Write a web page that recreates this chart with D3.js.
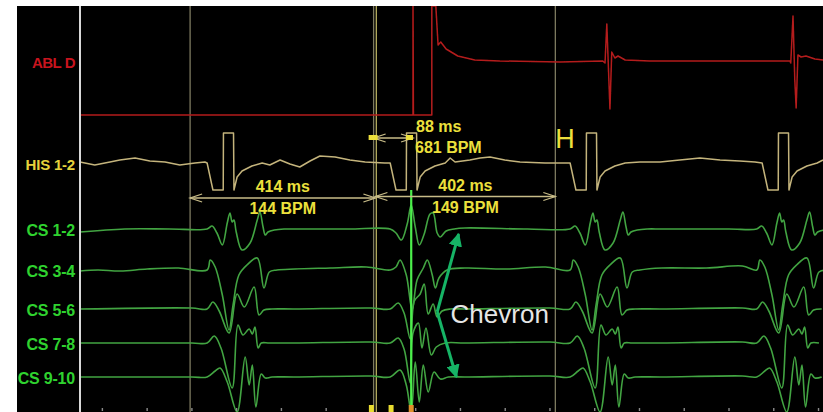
<!DOCTYPE html>
<html><head><meta charset="utf-8">
<script src="https://cdn.jsdelivr.net/npm/d3@7"></script>
<style>html,body{margin:0;padding:0;background:#fff;overflow:hidden}</style>
</head><body>
<svg id="c" width="823" height="412"></svg>
<script>
// ---------------- DATA ----------------
const timeDomain = [0, 1660]; // ms shown in the sweep
const channelNames = ["ABL D", "HIS 1-2", "CS 1-2", "CS 3-4", "CS 5-6", "CS 7-8", "CS 9-10"];

// ABL D (ms, mV)
const ablTrace = [[0,-5.4],[744,-5.4],[744,5.5],[745,-5.4],[786,-5.4],[786,5.5],[795,5.5],[800,1.6],[806,1.9],[818,1.2],[844,0.5],[882,0.1],[938,0],[1072,-0.1],[1168,0],[1173,-0.2],[1177,3.7],[1182,-2.4],[1184,-4.8],[1188,0.9],[1195,0.3],[1202,0.5],[1218,0.1],[1273,0],[1586,0],[1588,-0.2],[1593,4.5],[1597,-1.9],[1600,-4.7],[1604,0.6],[1611,0.4],[1622,0.5],[1642,0.2],[1660,0.1]];

// HIS 1-2
const hisOnsets = [284, 693, 1095, 1524];
const hisComplex = [[0,0],[13,-2.7],[36,-2.7],[36.5,3.0],[59,3.0],[60,-2.7],[67,-1.4],[78,-0.8],[100,-0.3],[123,0]];
const hisBaseline = [[0,0.1],[33,-0.2],[67,0.1],[89,0.3],[123,0.5],[156,0.2],[190,0.1],[223,-0.2],[257,0],[279,0.1],
  [424,-0.2],[447,0.3],[469,-0.1],[491,-0.4],[514,0.2],[536,0.7],[570,0.6],[603,0.3],[637,0.1],[681,0],
  [827,0.5],[838,0.1],[871,0.3],[894,0.5],[916,0.6],[949,0.3],[983,0.1],[1039,0],[1072,0],
  [1251,0.1],[1296,0.1],[1340,0.3],[1385,0.5],[1430,0.3],[1474,0.2],[1508,0.1],[1660,0.3]];

// CS complexes (conducted beats) and paced beat
const csOnsets = [284, 1095, 1512];
const pacedOnsets = [693];
const stimTimes = [740];

const cs12Complex = [[0,0],[11,0.3],[22,-0.4],[34,-1.6],[45,0.6],[51,1.6],[56,0.7],[60,0.9],[65,-0.3],[78,-2.1],[96,-1.4],[112,0.9],[118,1.7],[125,0.2],[130,-0.6],[136,-0.3],[150,-0.1],[172,0]];
const cs34Complex = [[0,0],[7,1.0],[18,0.3],[34,-2.5],[49,-6.0],[58,-3.5],[71,-0.5],[89,0.5],[112,1.2],[127,-1.8],[139,-0.2],[156,0]];
const cs56Complex = [[0,0],[13,0.7],[27,-0.2],[49,-2.4],[67,1.5],[83,0.2],[105,2.2],[116,-0.6],[127,-0.1],[145,0]];
const cs78Complex = [[0,0],[16,0.7],[31,-0.5],[56,-4.5],[69,1.8],[80,0.8],[94,1.4],[101,0.9],[107,1.6],[114,-0.5],[121,0],[139,0]];
const cs910Complex = [[0,0],[18,0.6],[29,0.9],[45,-0.5],[67,-3.5],[85,2.0],[94,-0.8],[101,1.2],[109,-3.0],[121,0.3],[130,-0.1],[145,0]];

const cs12Paced = [[0,0],[13,-0.4],[25,-1.1],[38,0.5],[47,2.4],[56,0.2],[65,-1.6],[76,-0.5],[89,1.5],[96,1.6],[105,-0.4],[112,-0.8],[125,-0.2],[143,0]];
const cs34Paced = [[0,0],[13,0.3],[22,1.0],[36,-0.5],[49,-4.0],[60,-1.0],[74,0.2],[83,1.0],[94,-0.5],[101,-1.8],[109,-0.8],[127,0]];
const cs56Paced = [[0,0],[18,0.6],[31,-0.4],[45,-3.0],[54,0.8],[67,1.5],[76,2.5],[85,-0.5],[96,0.5],[105,-0.8],[116,-0.2],[134,0]];
const cs78Paced = [[0,0],[18,0.5],[31,-0.6],[45,-4.0],[51,1.0],[63,2.0],[71,-0.5],[80,1.5],[92,-1.2],[103,-0.4],[123,0]];
const cs910Paced = [[0,0],[22,0.7],[36,-0.8],[47,-3.5],[56,1.5],[65,-2.5],[74,1.2],[85,-1.5],[98,0.5],[112,-0.2],[130,0]];

const cs12Baseline = [[0,-0.3],[100,0],[200,0],[480,0],[600,0],[860,0.1],[1000,0],[1300,0],[1450,0]];
const cs34Baseline = [[0,-0.1],[40,0],[90,-0.1],[150,0.1],[220,0.2],[480,0.1],[560,0.2],[640,0.3],[860,0.2],[950,0.1],[1040,0.3],[1300,0.2],[1400,0.2],[1480,0.4]];
const cs56Baseline = [[0,0],[250,0.1],[480,0],[650,0.1],[860,0],[1050,0.1],[1300,0],[1480,0.1]];
const cs78Baseline = [[0,0],[250,0],[480,0],[650,0.1],[860,0],[1050,0.1],[1300,0],[1480,0.1]];
const cs910Baseline = [[0,0],[250,0],[480,0],[650,0.1],[860,0],[1050,0.1],[1300,0],[1480,0.1]];

// calipers
const sweepLines = [246, 656, 1062];
const markerLines = [662];
const intervals = [
  {start:246, end:660, ms:"414 ms", bpm:"144 BPM"},
  {start:660, end:1062, ms:"402 ms", bpm:"149 BPM"}
];
const shortInterval = {start:656, end:744, ms:"88 ms", bpm:"681 BPM"};
const bottomMarkers = [651, 695, 740];
const tickTimes = [50,150,250,350,450,550,650,750,850,950,1050,1150,1250,1350,1450,1550,1650];

// ---------------- LAYOUT / STYLE ----------------
const W = 823, H = 412;
const panelX = 17, panelY = 6, plotLeft = 80;
const baseY = {"ABL D":61,"HIS 1-2":163,"CS 1-2":229,"CS 3-4":270,"CS 5-6":309,"CS 7-8":343,"CS 9-10":377};
const gain = 10; // px per mV
const labelColor = {"ABL D":"#c8141e","HIS 1-2":"#e6d23c","CS 1-2":"#2fd22f","CS 3-4":"#2fd22f","CS 5-6":"#2fd22f","CS 7-8":"#2fd22f","CS 9-10":"#2fd22f"};
const labelSize = {"ABL D":15,"HIS 1-2":15,"CS 1-2":16,"CS 3-4":16,"CS 5-6":16,"CS 7-8":16,"CS 9-10":16};
const FONT = "'Liberation Sans', Arial, sans-serif";

const svg = d3.select("#c");
const x = d3.scaleLinear().domain(timeDomain).range([plotLeft, W]);
const yFor = name => d3.scaleLinear().domain([0, 1]).range([baseY[name], baseY[name] - gain]);

svg.append("rect").attr("width", W).attr("height", H).attr("fill", "#fff");
svg.append("rect").attr("x", panelX).attr("y", panelY).attr("width", W - panelX).attr("height", H - panelY).attr("fill", "#000");

const defs = svg.append("defs");
defs.append("clipPath").attr("id", "plot").append("rect")
  .attr("x", plotLeft).attr("y", panelY).attr("width", W - plotLeft).attr("height", H - panelY);
const blur = defs.append("filter").attr("id", "soft").attr("x", "-5%").attr("y", "-5%").attr("width", "110%").attr("height", "110%");
blur.append("feGaussianBlur").attr("stdDeviation", 0.45);

const g = svg.append("g").attr("clip-path", "url(#plot)");

// vertical sweep/caliper lines
g.selectAll(".sw").data(sweepLines).join("line")
  .attr("x1", d => x(d)).attr("x2", d => x(d)).attr("y1", panelY).attr("y2", H)
  .attr("stroke", "#7e7b60").attr("stroke-width", 1.3);
g.selectAll(".mk").data(markerLines).join("line")
  .attr("x1", d => x(d)).attr("x2", d => x(d)).attr("y1", panelY).attr("y2", H)
  .attr("stroke", "#b8b060").attr("stroke-width", 1.3);

// compose a channel from baseline points + complexes
function compose(baseline, parts) {
  let pts = baseline.slice();
  parts.forEach(([onsets, tpl]) => onsets.forEach(o => tpl.forEach(([dt, v]) => pts.push([o + dt, v]))));
  return pts.sort((a, b) => a[0] - b[0]);
}

const csColor = "#42a442";
const traces = [
  {name:"ABL D", pts: ablTrace, color:"#b41c1c", curve: d3.curveLinear, w:1.5},
  {name:"HIS 1-2", pts: compose(hisBaseline, [[hisOnsets, hisComplex]]), color:"#c4b47c", curve: d3.curveLinear, w:1.5},
  {name:"CS 1-2", pts: compose(cs12Baseline, [[csOnsets, cs12Complex],[pacedOnsets, cs12Paced]]), color:csColor, curve: d3.curveCatmullRom.alpha(0.5), w:1.6},
  {name:"CS 3-4", pts: compose(cs34Baseline, [[csOnsets, cs34Complex],[pacedOnsets, cs34Paced]]), color:csColor, curve: d3.curveCatmullRom.alpha(0.5), w:1.6},
  {name:"CS 5-6", pts: compose(cs56Baseline, [[csOnsets, cs56Complex],[pacedOnsets, cs56Paced]]), color:csColor, curve: d3.curveCatmullRom.alpha(0.5), w:1.6},
  {name:"CS 7-8", pts: compose(cs78Baseline, [[csOnsets, cs78Complex],[pacedOnsets, cs78Paced]]), color:csColor, curve: d3.curveCatmullRom.alpha(0.5), w:1.6},
  {name:"CS 9-10", pts: compose(cs910Baseline, [[csOnsets, cs910Complex],[pacedOnsets, cs910Paced]]), color:csColor, curve: d3.curveCatmullRom.alpha(0.5), w:1.6}
];

const tg = g.append("g").attr("filter", "url(#soft)");
traces.forEach(tr => {
  const ys = yFor(tr.name);
  const line = d3.line().x(d => x(d[0])).y(d => ys(d[1])).curve(tr.curve);
  tg.append("path").attr("d", line(tr.pts)).attr("fill", "none")
    .attr("stroke", tr.color).attr("stroke-width", tr.w).attr("stroke-linejoin", "round");
});

// stimulus artifact
tg.selectAll(".stim").data(stimTimes).join("line")
  .attr("x1", d => x(d)).attr("x2", d => x(d))
  .attr("y1", yFor("HIS 1-2")(-2.7)).attr("y2", H)
  .attr("stroke", "#4cf04c").attr("stroke-width", 2.2);

// bottom ticks
g.selectAll(".tk").data(tickTimes).join("rect")
  .attr("x", d => x(d) - 0.7).attr("y", H - 4).attr("width", 1.4).attr("height", 3)
  .attr("fill", "#8a8a8a");
g.selectAll(".bm").data(bottomMarkers).join("rect")
  .attr("x", d => x(d) - 2.5).attr("y", H - 7).attr("width", 5).attr("height", 7)
  .attr("fill", (d, i) => i === bottomMarkers.length - 1 ? "#e0902a" : "#e8dc30");

// white left border line
svg.append("line").attr("x1", plotLeft).attr("x2", plotLeft).attr("y1", panelY).attr("y2", H)
  .attr("stroke", "#d8d8d8").attr("stroke-width", 2);

// channel labels
svg.selectAll(".lab").data(channelNames).join("text")
  .attr("x", 75).attr("y", d => baseY[d] + 1)
  .attr("text-anchor", "end").attr("dominant-baseline", "central")
  .attr("font-family", FONT).attr("font-weight", "bold")
  .attr("font-size", d => labelSize[d])
  .attr("letter-spacing", d => d === "ABL D" ? -0.5 : -0.2)
  .attr("fill", d => labelColor[d]).text(d => d);

// caliper arrows
const calColor = "#c8bc88";
function dblArrow(x1, x2, y, col) {
  const a = svg.append("g").attr("stroke", col).attr("stroke-width", 1.3).attr("fill", "none");
  a.append("line").attr("x1", x1).attr("x2", x2).attr("y1", y).attr("y2", y);
  a.append("path").attr("d", `M${x1 + 12},${y - 4}L${x1},${y}L${x1 + 12},${y + 4}`);
  a.append("path").attr("d", `M${x2 - 12},${y - 4}L${x2},${y}L${x2 - 12},${y + 4}`);
}
const yel = "#ece03c";
intervals.forEach((iv, i) => {
  const x1 = x(iv.start), x2 = x(iv.end), cx = (x1 + x2) / 2;
  const ay = i === 0 ? 198 : 196.5;
  dblArrow(x1, x2, ay, calColor);
  svg.append("text").attr("x", cx).attr("y", ay - 6).attr("text-anchor", "middle")
    .attr("font-family", FONT).attr("font-weight", "bold").attr("font-size", 16).attr("fill", yel).text(iv.ms);
  svg.append("text").attr("x", cx).attr("y", ay + 16).attr("text-anchor", "middle")
    .attr("font-family", FONT).attr("font-weight", "bold").attr("font-size", 16).attr("fill", yel).text(iv.bpm);
});
{
  const x1 = x(shortInterval.start), x2 = x(shortInterval.end), ay = 138;
  dblArrow(x1, x2, ay, calColor);
  svg.append("rect").attr("x", x1 - 5).attr("y", ay - 3).attr("width", 9).attr("height", 5).attr("fill", yel);
  svg.append("rect").attr("x", x2 - 7).attr("y", ay - 3).attr("width", 7).attr("height", 5).attr("fill", yel);
  svg.append("text").attr("x", x2 + 3).attr("y", 132)
    .attr("font-family", FONT).attr("font-weight", "bold").attr("font-size", 16).attr("fill", yel).text(shortInterval.ms);
  svg.append("text").attr("x", x2 + 2).attr("y", 153)
    .attr("font-family", FONT).attr("font-weight", "bold").attr("font-size", 16).attr("fill", yel).text(shortInterval.bpm);
}
// H marker
svg.append("text").attr("x", x(1062)).attr("y", 148)
  .attr("font-family", FONT).attr("font-size", 27).attr("fill", yel).text("H");

// Chevron annotation
const chevColor = "#16b466";
const origin = [x(798), yFor("CS 5-6")(-0.3)];
const tips = [[x(846), yFor("CS 1-2")(-0.5)], [x(841), yFor("CS 9-10")(0)]];
defs.append("marker").attr("id", "ah").attr("viewBox", "0 0 10 10").attr("refX", 9).attr("refY", 5)
  .attr("markerWidth", 4.5).attr("markerHeight", 4.5).attr("orient", "auto")
  .append("path").attr("d", "M0,0L10,5L0,10Z").attr("fill", chevColor);
tips.forEach(t => {
  svg.append("line").attr("x1", origin[0]).attr("y1", origin[1]).attr("x2", t[0]).attr("y2", t[1])
    .attr("stroke", chevColor).attr("stroke-width", 3).attr("marker-end", "url(#ah)");
});
svg.append("text").attr("x", x(828)).attr("y", 323)
  .attr("font-family", FONT).attr("font-size", 26).attr("fill", "#e6e6e6").text("Chevron");
</script>
</body></html>
